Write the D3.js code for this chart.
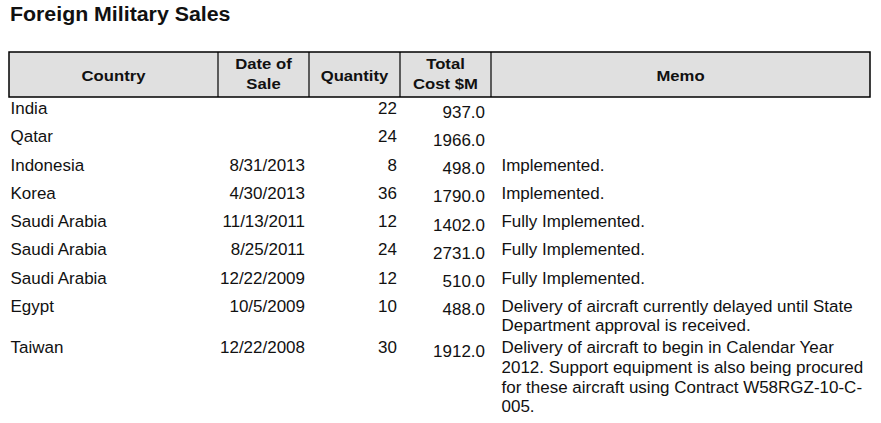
<!DOCTYPE html>
<html>
<head>
<meta charset="utf-8">
<script src="https://cdn.jsdelivr.net/npm/d3@7"></script>
<style>
  html, body { margin: 0; padding: 0; background: #fff; }
  svg { display: block; font-family: Arial, "Liberation Sans", sans-serif; }
</style>
</head>
<body>
<svg id="chart" width="881" height="423"></svg>
<script>
// ---- data ----
const title = "Foreign Military Sales";
const columns = ["Country", "Date of Sale", "Quantity", "Total Cost $M", "Memo"];
const headerLines = [["Country"], ["Date of", "Sale"], ["Quantity"], ["Total", "Cost $M"], ["Memo"]];
const countries = ["India", "Qatar", "Indonesia", "Korea", "Saudi Arabia", "Saudi Arabia", "Saudi Arabia", "Egypt", "Taiwan"];
const saleDates = ["", "", "8/31/2013", "4/30/2013", "11/13/2011", "8/25/2011", "12/22/2009", "10/5/2009", "12/22/2008"];
const quantities = [22, 24, 8, 36, 12, 24, 12, 10, 30];
const totalCosts = [937.0, 1966.0, 498.0, 1790.0, 1402.0, 2731.0, 510.0, 488.0, 1912.0];
const memos = [
  [],
  [],
  ["Implemented."],
  ["Implemented."],
  ["Fully Implemented."],
  ["Fully Implemented."],
  ["Fully Implemented."],
  ["Delivery of aircraft currently delayed until State", "Department approval is received."],
  ["Delivery of aircraft to begin in Calendar Year", "2012. Support equipment is also being procured", "for these aircraft using Contract W58RGZ-10-C-", "005."]
];

// ---- layout ----
const svg = d3.select("#chart");
const SX = 1.09;           // horizontal stretch of the reference glyphs
const fs = 15.6;
const colEdges = [9, 218, 309, 400, 491, 870];
const colScale = d3.scaleOrdinal().domain(columns).range(colEdges.slice(0, 5));
const colEnd = d3.scaleOrdinal().domain(columns).range(colEdges.slice(1));
const headerTop = 52, headerBottom = 97;

function txt(g, x, y, s, anchor, opts = {}) {
  return g.append("text")
    .attr("transform", `translate(${x},${y}) scale(${opts.sx || SX},1)`)
    .attr("text-anchor", anchor)
    .attr("font-size", opts.size || fs)
    .attr("font-weight", opts.weight || "normal")
    .attr("fill", "#111")
    .text(s);
}

// title
txt(svg, 10, 21, title, "start", { size: 19.4, weight: "bold", sx: 1.1 });

// header
const hdr = svg.append("g");
hdr.append("rect")
  .attr("x", colEdges[0]).attr("y", headerTop)
  .attr("width", colEdges[5] - colEdges[0]).attr("height", headerBottom - headerTop)
  .attr("fill", "#e0e0e0").attr("stroke", "#000").attr("stroke-width", 1.5);
hdr.selectAll("line.div").data(columns.slice(1)).join("line")
  .attr("x1", d => colScale(d)).attr("x2", d => colScale(d))
  .attr("y1", headerTop).attr("y2", headerBottom)
  .attr("stroke", "#000").attr("stroke-width", 1.2);
columns.forEach((c, i) => {
  const cx = (colScale(c) + colEnd(c)) / 2;
  const lines = headerLines[i];
  const base = lines.length === 1 ? 81 : 69;
  lines.forEach((l, j) => txt(hdr, cx, base + j * 20, l, "middle", { weight: "bold", size: 15.3 }));
});

// rows: y scale from cumulative row heights
const lineH = 19.6;
const rowHeights = memos.map(m => Math.max(28.25, Math.max(1, m.length) * lineH + 2.5));
const rowTops = [];
rowHeights.reduce((acc, h) => { rowTops.push(acc); return acc + h; }, 0);
const yRow = d3.scaleOrdinal().domain(d3.range(countries.length)).range(rowTops.map(t => 114 + t));

const body = svg.append("g");
countries.forEach((c, i) => {
  const y = yRow(i);
  txt(body, 10.5, y, c, "start");
  if (saleDates[i]) txt(body, colEnd("Date of Sale") - 4, y, saleDates[i], "end");
  txt(body, colEnd("Quantity") - 3, y, String(quantities[i]), "end");
  txt(body, colEnd("Total Cost $M") - 6, y + 3.5, d3.format(".1f")(totalCosts[i]), "end");
  memos[i].forEach((m, j) => txt(body, colScale("Memo") + 10.5, y + j * lineH, m, "start"));
});
</script>
</body>
</html>
